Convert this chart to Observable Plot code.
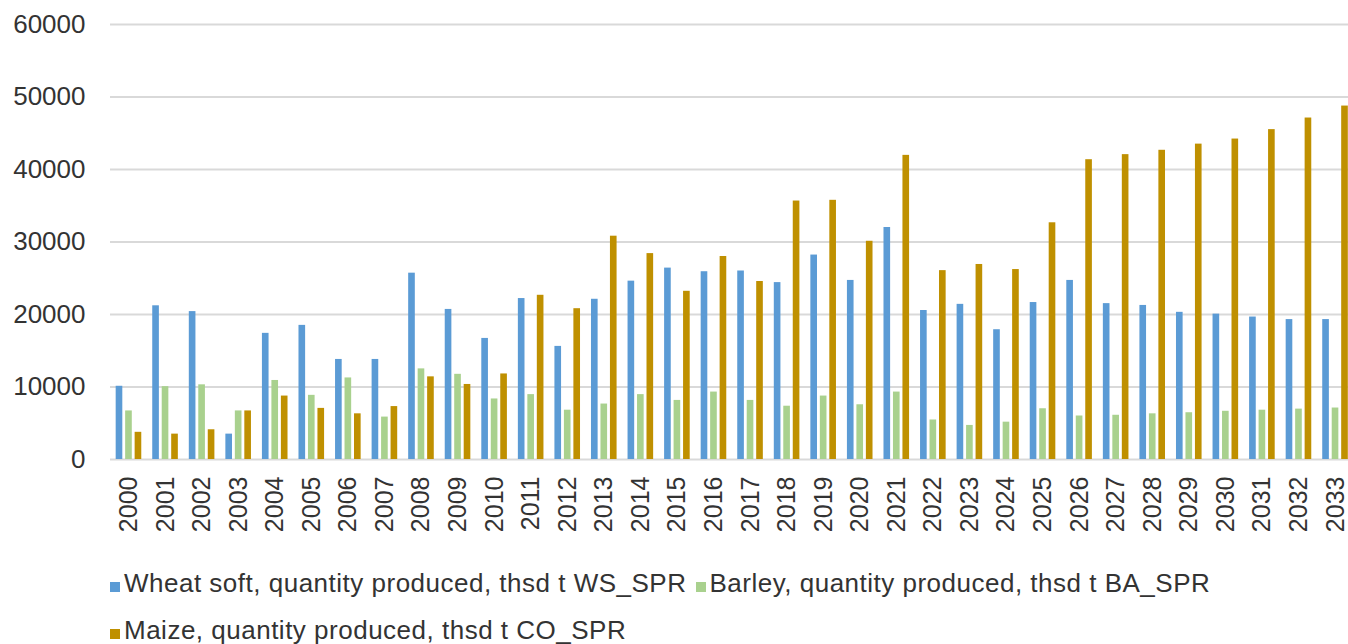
<!DOCTYPE html>
<html>
<head>
<meta charset="utf-8">
<script src="https://cdn.jsdelivr.net/npm/d3@7"></script>
<script src="https://cdn.jsdelivr.net/npm/@observablehq/plot@0.6"></script>
<style>
  html, body { margin: 0; padding: 0; background: #fff; }
  body { width: 1348px; height: 644px; overflow: hidden; font-family: "Liberation Sans", Arial, sans-serif; color: #333; }
  #legend { font-size: 26px; line-height: 26px; letter-spacing: 0.5px; }
  .row { display: flex; align-items: center; height: 26px; position: absolute; left: 110px; }
  .item { display: flex; align-items: center; margin-right: 9px; white-space: nowrap; }
  .sw { width: 10px; height: 10px; margin-right: 4px; margin-top: 8px; display: inline-block; }
</style>
</head>
<body>
<div id="chart"></div>
<div id="legend"></div>
<script>
const years = ["2000","2001","2002","2003","2004","2005","2006","2007","2008","2009","2010","2011","2012","2013","2014","2015","2016","2017","2018","2019","2020","2021","2022","2023","2024","2025","2026","2027","2028","2029","2030","2031","2032","2033"];
const wheat = [10100,21200,20400,3500,17400,18500,13800,13800,25700,20700,16700,22200,15600,22100,24600,26400,25900,26000,24400,28200,24700,32000,20550,21400,17900,21650,24700,21500,21250,20300,20050,19650,19300,19300];
const barley = [6700,10050,10300,6700,10900,8850,11250,5850,12500,11750,8350,8950,6800,7650,8950,8150,9300,8150,7350,8750,7550,9300,5450,4700,5150,7000,6000,6100,6300,6450,6650,6800,6950,7100];
const maize = [3750,3500,4100,6700,8750,7050,6300,7300,11400,10350,11800,22650,20800,30800,28400,23200,28000,24550,35650,35750,30100,41950,26050,26900,26200,32650,41350,42050,42650,43500,44200,45500,47100,48750];
const seriesNames = ["Wheat soft, quantity produced, thsd t WS_SPR", "Barley, quantity produced, thsd t BA_SPR", "Maize, quantity produced, thsd t CO_SPR"];
const seriesColors = ["#5b9bd5", "#a9d18e", "#bf9000"];
const yTicks = [0,10000,20000,30000,40000,50000,60000];

const seriesValues = [wheat, barley, maize];
const data = [];
seriesValues.forEach((vals, s) => vals.forEach((v, i) => data.push({year: years[i], series: seriesNames[s], value: v, s})));

const W = 1348, ML = 110, MR = 0;
const padIn = 0.3, padOut = 0.08;
const step = (W - ML - MR) / (years.length - padIn + 2 * padOut);
const bw = step * (1 - padIn);
const sub = bw / (3 - 0.3);
const barW = sub * 0.7;

const marks = [
  Plot.gridY(yTicks, {stroke: "#d9d9d9", strokeOpacity: 1, strokeWidth: 2})
];
seriesNames.forEach((name, s) => {
  marks.push(Plot.barY(data.filter(d => d.s === s), {
    x: "year", y: "value", fill: seriesColors[s],
    insetLeft: s * sub, insetRight: bw - s * sub - barW
  }));
});

const chart = Plot.plot({
  width: W,
  height: 550,
  marginLeft: ML,
  marginRight: MR,
  marginTop: 24,
  marginBottom: 91,
  style: {fontFamily: "Liberation Sans, Arial, sans-serif", color: "#333", background: "#fff"},
  x: {domain: years, paddingInner: padIn, paddingOuter: padOut, align: 0.97, round: false, tickSize: 0, tickPadding: 17, tickRotate: -90, label: null},
  y: {domain: [0, 60000], ticks: yTicks, tickFormat: d => String(d), tickSize: 0, tickPadding: 25, label: null},
  marks
});
chart.querySelectorAll("g[aria-label='x-axis tick label']").forEach(e => e.setAttribute("font-size", 25));
chart.querySelectorAll("g[aria-label='y-axis tick label']").forEach(e => e.setAttribute("font-size", 26));
document.getElementById("chart").appendChild(chart);

const legend = document.getElementById("legend");
const rows = [[0, 1], [2]];
const rowTops = [570, 617];
rows.forEach((r, k) => {
  const row = document.createElement("div");
  row.className = "row";
  row.style.top = rowTops[k] + "px";
  r.forEach(s => {
    const it = document.createElement("span");
    it.className = "item";
    const sw = document.createElement("span");
    sw.className = "sw";
    sw.style.background = seriesColors[s];
    it.appendChild(sw);
    it.appendChild(document.createTextNode(seriesNames[s]));
    row.appendChild(it);
  });
  legend.appendChild(row);
});
</script>
</body>
</html>
